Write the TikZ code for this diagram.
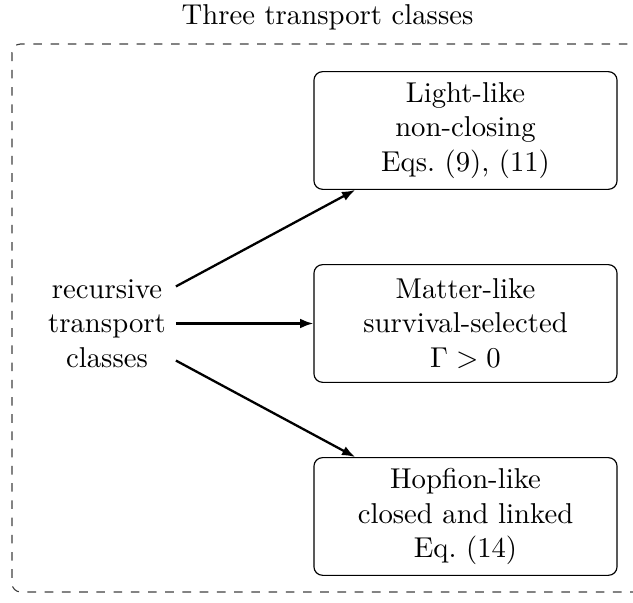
\documentclass[tikz,border=0pt]{standalone}
\usetikzlibrary{arrows.meta}
\begin{document}
\begin{tikzpicture}[x=0.3484pt, y=-0.3484pt,
  classbox/.style={draw, rounded corners=3pt, align=center, minimum width=105.6pt, minimum height=41pt, inner sep=3.33pt},
  srcnode/.style={align=center, inner sep=3.33pt},
  flow/.style={thick, -{Latex[length=4.6pt,width=3.4pt]}},
  frame/.style={draw=black!75, dashed, rounded corners=3pt},
  titletext/.style={inner sep=0pt, anchor=base}]
\useasboundingbox (0,0) rectangle (633,603);
\draw[frame] (12,44) rectangle (660,592);
\node[titletext] (title) at (327.5,25) {Three transport classes};
\node[classbox] (b1) at (465.5,130.5) {Light-like\\non-closing\\Eqs.~(9), (11)};
\node[classbox] (b2) at (465.5,323.5) {Matter-like\\survival-selected\\$\Gamma>0$};
\node[classbox] (b3) at (465.5,516.5) {Hopfion-like\\closed and linked\\Eq.~(14)};
\node[srcnode] (src) at (107,323.5) {recursive\\transport\\classes};
\draw[flow] (src) -- (b1);
\draw[flow] (src) -- (b2);
\draw[flow] (src) -- (b3);
\end{tikzpicture}
\end{document}
